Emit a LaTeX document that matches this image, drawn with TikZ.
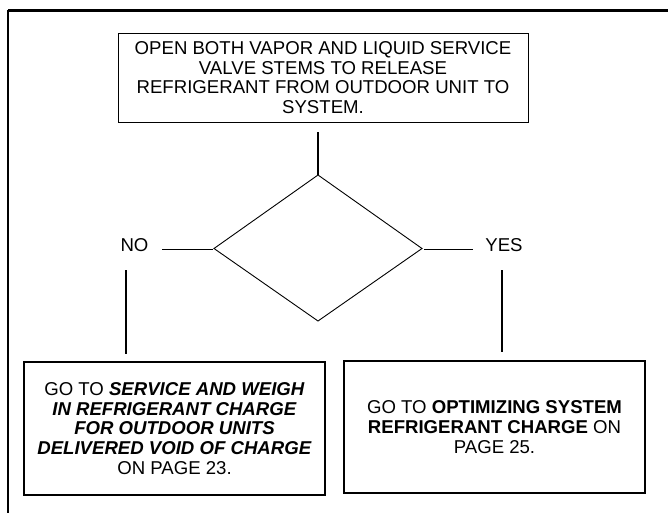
\documentclass[tikz,border=0pt]{standalone}
\usepackage{fontspec}
\setmainfont{Liberation Sans}
\newcommand\flowfont{\fontsize{18.6}{19.6}\selectfont}
\begin{document}
\begin{tikzpicture}[x=1pt,y=-1pt,
  thinbox/.style={draw, line width=0.9pt, inner sep=0pt, align=center, font=\flowfont},
  thickbox/.style={draw, line width=2pt, inner sep=0pt, align=center, font=\flowfont},
  conn/.style={line width=1.9pt},
  thinline/.style={line width=0.9pt},
  lbl/.style={inner sep=0pt, font=\flowfont}]
\useasboundingbox (0,0) rectangle (668,513);
% outer frame
\coordinate (fTL) at (8,10.5);
\coordinate (fTR) at (668,10.5);
\coordinate (fBL) at (8,513);
\draw[line width=3pt] (fTL) -- (fTR);
\draw[line width=2pt] (fTL) -- (fBL);
% top box
\node[thinbox, minimum width=410pt, minimum height=89pt] (top) at (323,77.5)
  {OPEN BOTH VAPOR AND LIQUID SERVICE\\VALVE STEMS TO RELEASE\\REFRIGERANT FROM OUTDOOR UNIT TO\\SYSTEM.};
% diamond
\coordinate (dN) at (318,175);
\coordinate (dE) at (422,248.5);
\coordinate (dS) at (318,321);
\coordinate (dW) at (214,248.5);
\draw[thinline] (dN) -- (dE) -- (dS) -- (dW) -- cycle;
\draw[conn, shorten <=10pt] (top.south -| dN) -- (dN);
% labels
\node[lbl] (no) at (134.5,245) {NO};
\node[lbl] (yes) at (504,245) {YES};
\coordinate (noEnd) at (162,249.5);
\coordinate (yesEnd) at (473,249.5);
\draw[conn] (dW |- noEnd) ++(-1,0) -- (noEnd);
\draw[conn] (dE |- yesEnd) ++(2,0) -- (yesEnd);
% bottom boxes
\node[thickbox, minimum width=301pt, minimum height=133pt] (left) at (174.5,428.5)
  {GO TO \textbf{\textit{SERVICE AND WEIGH}}\\\textbf{\textit{IN REFRIGERANT CHARGE}}\\\textbf{\textit{FOR OUTDOOR UNITS}}\\\textbf{\textit{DELIVERED VOID OF CHARGE}}\\ON PAGE 23.};
\node[thickbox, minimum width=301pt, minimum height=132pt] (right) at (494.5,427)
  {GO TO \textbf{OPTIMIZING SYSTEM}\\\textbf{REFRIGERANT CHARGE} ON\\PAGE 25.};
\coordinate (noDown) at (126,270);
\coordinate (yesDown) at (502,270);
\draw[conn, shorten >=7pt] (noDown) -- (left.north -| noDown);
\draw[conn, shorten >=8pt] (yesDown) -- (right.north -| yesDown);
\end{tikzpicture}
\end{document}
